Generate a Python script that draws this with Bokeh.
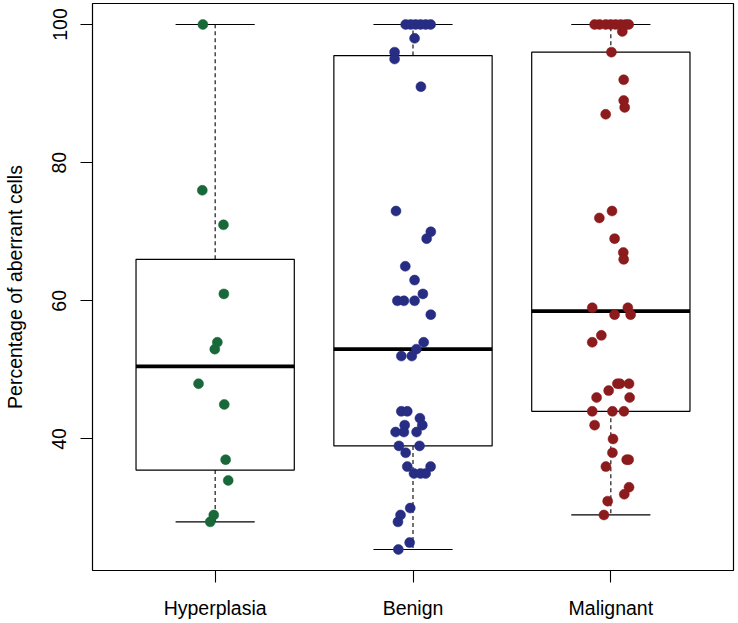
import math
from bokeh.plotting import figure
from bokeh.models import FixedTicker, Range1d
from bokeh.embed import file_html
from bokeh.resources import INLINE

# ---- data ----
categories = ["Hyperplasia", "Benign", "Malignant"]
colors = ["#18683A", "#262D83", "#8C1B1D"]

hyper_vals = [100, 76, 71, 61, 54, 53, 48, 45, 37, 34, 29, 28]
hyper_jit = [-0.062, -0.065, 0.042, 0.044, 0.011, -0.002, -0.084, 0.046, 0.053, 0.066, -0.007, -0.025]

benign_vals = [100, 100, 100, 100, 100, 100, 98, 96, 95, 91, 73, 70, 69, 65, 63, 61,
               60, 60, 60, 58, 54, 53, 52, 52, 44, 44, 43, 42, 42, 41, 41, 41,
               39, 39, 38, 36, 36, 35, 35, 35, 30, 29, 28, 25, 24]
benign_jit = [-0.037, -0.012, 0.013, 0.038, 0.064, 0.089, 0.008, -0.093, -0.093, 0.040,
              -0.086, 0.090, 0.069, -0.039, 0.008, 0.050, -0.079, -0.046, 0.008, 0.090,
              0.054, 0.017, -0.059, -0.006, -0.059, -0.029, 0.035, 0.047, -0.042, -0.088,
              -0.046, 0.018, -0.071, 0.033, -0.037, -0.029, 0.089, 0.005, 0.038, 0.064,
              -0.014, -0.063, -0.076, -0.017, -0.074]

malig_vals = [100, 100, 100, 100, 100, 100, 100, 100, 99, 96, 92, 89, 88, 87, 73, 72,
              69, 67, 66, 59, 59, 58, 58, 55, 54, 48, 48, 48, 47, 46, 46, 44, 44, 44,
              42, 40, 38, 37, 37, 36, 33, 32, 31, 29]
malig_jit = [-0.082, -0.057, -0.026, -0.001, 0.024, 0.050, 0.075, 0.090, 0.058, 0.003,
             0.065, 0.065, 0.070, -0.026, 0.006, -0.058, 0.019, 0.063, 0.065, -0.094,
             0.086, 0.019, 0.100, -0.048, -0.094, 0.033, 0.046, 0.092, -0.011, -0.072,
             0.095, -0.094, 0.008, 0.066, -0.082, 0.011, 0.008, 0.080, 0.090, -0.025,
             0.092, 0.068, -0.016, -0.035]

box_low = [28, 24, 29]
box_q1 = [35.5, 39, 44]
box_med = [50.5, 53, 58.5]
box_q3 = [66, 95.5, 96]
box_high = [100, 100, 100]

y_ticks = [40, 60, 80, 100]
y_label = "Percentage of aberrant cells"

# ---- figure ----
FONT = "Liberation Sans"
p = figure(width=736, height=621, output_backend="svg", toolbar_location=None,
           x_range=Range1d(0.38, 3.62), y_range=Range1d(20.96, 103.04),
           min_border_left=92, min_border_right=3, min_border_top=3, min_border_bottom=48)
p.background_fill_color = "white"
p.border_fill_color = "white"
p.outline_line_color = "black"
p.outline_line_width = 1.2
p.xgrid.visible = False
p.ygrid.visible = False

pos = [1, 2, 3]
box_half = 0.4
cap_half = 0.2

# boxes
p.quad(left=[x - box_half for x in pos], right=[x + box_half for x in pos],
       bottom=box_q1, top=box_q3, fill_color="white", line_color="black", line_width=1.2)
# whiskers
p.segment(x0=pos, y0=box_q3, x1=pos, y1=box_high, line_color="black",
          line_width=1.1, line_dash="4 3")
p.segment(x0=pos, y0=box_q1, x1=pos, y1=box_low, line_color="black",
          line_width=1.1, line_dash="4 3")
# caps
p.segment(x0=[x - cap_half for x in pos], y0=box_high, x1=[x + cap_half for x in pos],
          y1=box_high, line_color="black", line_width=1.2)
p.segment(x0=[x - cap_half for x in pos], y0=box_low, x1=[x + cap_half for x in pos],
          y1=box_low, line_color="black", line_width=1.2)
# medians
p.segment(x0=[x - box_half for x in pos], y0=box_med, x1=[x + box_half for x in pos],
          y1=box_med, line_color="black", line_width=3.8)

# points
groups = [(hyper_vals, hyper_jit), (benign_vals, benign_jit), (malig_vals, malig_jit)]
for i, (vals, jit) in enumerate(groups):
    xs = [pos[i] + j for j in jit]
    p.scatter(xs, vals, size=10, fill_color=colors[i], line_color=colors[i], line_width=0.5)

# axes
p.xaxis.ticker = FixedTicker(ticks=pos)
p.xaxis.major_label_overrides = {1: categories[0], 2: categories[1], 3: categories[2]}
p.yaxis.ticker = FixedTicker(ticks=y_ticks)
p.yaxis.axis_label = y_label
for ax in (p.xaxis[0], p.yaxis[0]):
    ax.axis_line_color = None
    ax.major_tick_in = 0
    ax.major_tick_out = 12
    ax.major_tick_line_color = "black"
    ax.major_tick_line_width = 1.1
    ax.minor_tick_line_color = None
    ax.major_label_text_font = FONT
    ax.major_label_text_font_size = "19.5px"
    ax.major_label_text_color = "black"
    ax.axis_label_text_font = FONT
    ax.axis_label_text_font_size = "19.5px"
    ax.axis_label_text_font_style = "normal"
    ax.axis_label_text_color = "black"
p.xaxis.major_label_standoff = 14
p.yaxis.major_label_standoff = 14
p.yaxis.major_label_orientation = "vertical"
p.yaxis.axis_label_standoff = 24

open("out.html", "w").write(file_html(p, INLINE))
